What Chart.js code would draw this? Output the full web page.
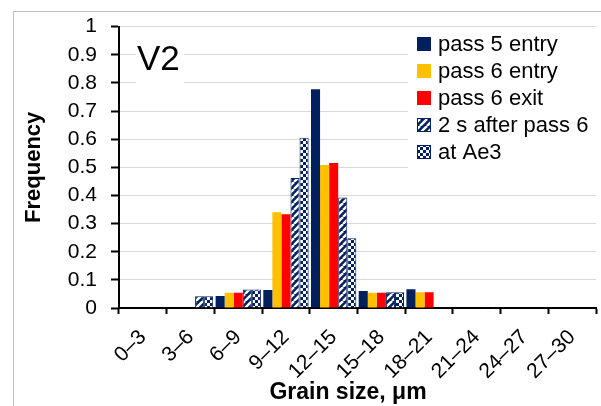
<!DOCTYPE html>
<html>
<head>
<meta charset="utf-8">
<script src="https://cdn.jsdelivr.net/npm/chart.js@4/dist/chart.umd.min.js"></script>
<style>
	html, body { margin: 0; padding: 0; background: #fff; }
	canvas { display: block; }
</style>
</head>
<body>
<canvas id="grain-chart" width="601" height="406"></canvas>
<script>
/* global Chart */
(function () {
	'use strict';

	/* ---------- Data ---------- */

	var categories = ['0–3', '3–6', '6–9', '9–12', '12–15', '15–18', '18–21', '21–24', '24–27', '27–30'];
	var seriesNames = ['pass 5 entry', 'pass 6 entry', 'pass 6 exit', '2 s after pass 6', 'at Ae3'];

	var pass5Entry = [0, 0, 0.043, 0.064, 0.777, 0.060, 0.067, 0, 0, 0];
	var pass6Entry = [0, 0, 0.054, 0.340, 0.508, 0.054, 0.056, 0, 0, 0];
	var pass6Exit = [0, 0, 0.054, 0.333, 0.515, 0.054, 0.056, 0, 0, 0];
	var after2s = [0, 0.042, 0.066, 0.462, 0.393, 0.056, 0.003, 0.003, 0, 0];
	var atAe3 = [0, 0.042, 0.066, 0.605, 0.248, 0.056, 0.003, 0.003, 0, 0];

	/* ---------- Helpers ---------- */

	var NAVY = '#002060';
	var FONT = '"Liberation Sans", Arial, sans-serif';

	function makeHatch() {
		var c = document.createElement('canvas');
		c.width = 7;
		c.height = 7;
		var g = c.getContext('2d');
		g.fillStyle = NAVY;
		g.fillRect(0, 0, 7, 7);
		g.strokeStyle = '#fff';
		g.lineWidth = 2.4;
		[-7, 0, 7].forEach(function (o) {
			g.beginPath();
			g.moveTo(o, 7);
			g.lineTo(o + 7, 0);
			g.stroke();
		});
		return g.createPattern(c, 'repeat');
	}

	function makeChecker() {
		var c = document.createElement('canvas');
		c.width = 6;
		c.height = 6;
		var g = c.getContext('2d');
		g.fillStyle = NAVY;
		g.fillRect(0, 0, 6, 6);
		g.fillStyle = '#fff';
		g.fillRect(0, 0, 3, 3);
		g.fillRect(3, 3, 3, 3);
		return g.createPattern(c, 'repeat');
	}

	var hatch = makeHatch();
	var checker = makeChecker();

	function barSet(label, data, fill, border) {
		return {
			label: label,
			data: data,
			backgroundColor: fill,
			borderColor: border || fill,
			borderWidth: border ? 1 : 0,
			categoryPercentage: 0.95,
			barPercentage: 1,
		};
	}

	/* ---------- Overlay: frame, V2 tag, legend, x title ---------- */

	var overlay = {
		id: 'overlay',
		beforeDraw: function (chart) {
			var ctx = chart.ctx;
			ctx.save();
			ctx.strokeStyle = '#bfbfbf';
			ctx.lineWidth = 1;
			ctx.strokeRect(13.5, 11.5, 700, 500);
			ctx.restore();
		},
		afterDatasetsDraw: function (chart) {
			var ctx = chart.ctx;
			ctx.save();

			// white boxes hide the grid like the Excel text boxes do
			ctx.fillStyle = '#fff';
			ctx.fillRect(136, 36, 48, 52);
			ctx.fillRect(408, 30, 193, 150);

			ctx.fillStyle = '#000';
			ctx.font = '35px ' + FONT;
			ctx.textBaseline = 'alphabetic';
			ctx.textAlign = 'left';
			ctx.fillText('V2', 137, 70);

			ctx.font = '22px ' + FONT;
			ctx.textBaseline = 'middle';
			chart.data.datasets.forEach(function (ds, i) {
				var y = 44 + i * 27;
				ctx.fillStyle = ds.backgroundColor;
				ctx.fillRect(417, y - 7, 14, 14);
				if (ds.borderWidth) {
					ctx.strokeStyle = ds.borderColor;
					ctx.lineWidth = 1;
					ctx.strokeRect(417.5, y - 6.5, 13, 13);
				}
				ctx.fillStyle = '#000';
				ctx.fillText(ds.label, 438, y + 1);
			});

			ctx.font = 'bold 23px ' + FONT;
			ctx.textAlign = 'center';
			ctx.fillText('Grain size, μm', 348, 393);
			ctx.restore();
		},
	};

	/* ---------- Chart ---------- */

	new Chart(document.getElementById('grain-chart'), {
		type: 'bar',
		data: {
			labels: categories,
			datasets: [
				barSet(seriesNames[0], pass5Entry, NAVY),
				barSet(seriesNames[1], pass6Entry, '#ffc000'),
				barSet(seriesNames[2], pass6Exit, '#ff0000'),
				barSet(seriesNames[3], after2s, hatch, NAVY),
				barSet(seriesNames[4], atAe3, checker, NAVY),
			],
		},
		options: {
			responsive: false,
			animation: false,
			devicePixelRatio: 1,
			layout: { padding: { top: 25, left: 0, right: 0, bottom: 0 } },
			plugins: {
				legend: { display: false },
				tooltip: { enabled: false },
			},
			scales: {
				x: {
					grid: {
						offset: true,
						drawOnChartArea: false,
						tickLength: 6,
						tickColor: '#000',
						tickWidth: 2,
					},
					border: { color: '#000', width: 2 },
					ticks: {
						color: '#000',
						font: { family: FONT, size: 21 },
						minRotation: 45,
						maxRotation: 45,
						autoSkip: false,
						padding: 11,
					},
					afterFit: function (scale) {
						scale.height = 98;
					},
				},
				y: {
					min: 0,
					max: 1,
					grid: {
						color: '#d9d9d9',
						tickLength: 8,
						tickColor: '#000',
						tickWidth: 2,
					},
					border: { color: '#000', width: 2 },
					ticks: {
						stepSize: 0.1,
						autoSkip: false,
						color: '#000',
						font: { family: FONT, size: 21 },
						padding: 14,
						callback: function (v) {
							return String(Math.round(v * 10) / 10);
						},
					},
					title: {
						display: true,
						text: 'Frequency',
						color: '#000',
						font: { family: FONT, size: 22, weight: 'bold' },
						padding: { top: 21, bottom: 0 },
					},
					afterFit: function (scale) {
						scale.width = 119;
					},
				},
			},
		},
		plugins: [overlay],
	});
})();
</script>
</body>
</html>
